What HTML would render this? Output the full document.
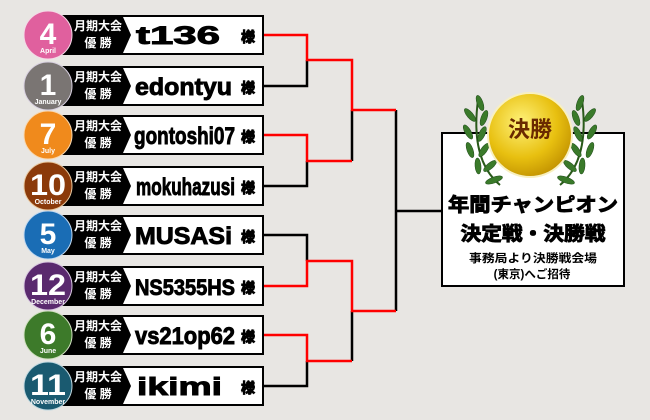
<!DOCTYPE html>
<html><head><meta charset="utf-8"><style>
html,body{margin:0;padding:0;background:#e8e6e3;}
svg{display:block;}
text{font-family:"Liberation Sans","Noto Sans CJK JP",sans-serif;font-weight:bold;}
.n{stroke:#000;stroke-width:0.9;}
</style></head><body>
<svg width="650" height="420" viewBox="0 0 650 420" xmlns="http://www.w3.org/2000/svg">
<rect width="650" height="420" fill="#e8e6e3"/>
<g stroke-width="2.5" fill="none">
<g stroke="#000">
<path d="M264 86H307V60"/>
<path d="M264 186H307V161"/>
<path d="M352 110V161"/>
<path d="M264 235H307V261"/>
<path d="M352 311V361"/>
<path d="M264 386H307V361"/>
<path d="M396 110V311"/>
<path d="M396 211H442"/>
</g>
<g stroke="#f00">
<path d="M264 35H307V60H352V110H396"/>
<path d="M264 135H307V161H352"/>
<path d="M264 286H307V261H352V311H396"/>
<path d="M264 335H307V361H352"/>
</g>
</g>

<g transform="translate(0,35)">
<rect x="60" y="-20" width="204" height="40" fill="#000"/>
<polygon points="123,-18 262,-18 262,18 123,18 131,0" fill="#fff"/>
<text x="98" y="-5" font-size="12" fill="#fff" text-anchor="middle">月期大会</text>
<text x="98" y="12" font-size="12" fill="#fff" text-anchor="middle">優 勝</text>
<circle cx="48" cy="0" r="24" fill="#e0609e" stroke="#f4d8e6" stroke-width="1"/>
<text x="48" y="9" font-size="30" fill="#fff" text-anchor="middle">4</text>
<text x="48" y="18" font-size="7" fill="#fff" text-anchor="middle">April</text>
<text class="n" x="136" y="9" font-size="25" textLength="84" lengthAdjust="spacingAndGlyphs" fill="#000">t136</text>
<text class="n" x="241" y="7" font-size="14" fill="#000">様</text>
</g>
<g transform="translate(0,86)">
<rect x="60" y="-20" width="204" height="40" fill="#000"/>
<polygon points="123,-18 262,-18 262,18 123,18 131,0" fill="#fff"/>
<text x="98" y="-5" font-size="12" fill="#fff" text-anchor="middle">月期大会</text>
<text x="98" y="12" font-size="12" fill="#fff" text-anchor="middle">優 勝</text>
<circle cx="48" cy="0" r="24" fill="#7a7573" stroke="#d8d0e0" stroke-width="1"/>
<text x="48" y="9" font-size="30" fill="#fff" text-anchor="middle">1</text>
<text x="48" y="18" font-size="7" fill="#fff" text-anchor="middle">January</text>
<text class="n" x="135" y="9" font-size="24" textLength="97" lengthAdjust="spacingAndGlyphs" fill="#000">edontyu</text>
<text class="n" x="241" y="7" font-size="14" fill="#000">様</text>
</g>
<g transform="translate(0,135)">
<rect x="60" y="-20" width="204" height="40" fill="#000"/>
<polygon points="123,-18 262,-18 262,18 123,18 131,0" fill="#fff"/>
<text x="98" y="-5" font-size="12" fill="#fff" text-anchor="middle">月期大会</text>
<text x="98" y="12" font-size="12" fill="#fff" text-anchor="middle">優 勝</text>
<circle cx="48" cy="0" r="24" fill="#f08a1c" stroke="#f8d8b0" stroke-width="1"/>
<text x="48" y="9" font-size="30" fill="#fff" text-anchor="middle">7</text>
<text x="48" y="18" font-size="7" fill="#fff" text-anchor="middle">July</text>
<text class="n" x="134" y="9" font-size="24" textLength="101" lengthAdjust="spacingAndGlyphs" fill="#000">gontoshi07</text>
<text class="n" x="241" y="7" font-size="14" fill="#000">様</text>
</g>
<g transform="translate(0,186)">
<rect x="60" y="-20" width="204" height="40" fill="#000"/>
<polygon points="123,-18 262,-18 262,18 123,18 131,0" fill="#fff"/>
<text x="98" y="-5" font-size="12" fill="#fff" text-anchor="middle">月期大会</text>
<text x="98" y="12" font-size="12" fill="#fff" text-anchor="middle">優 勝</text>
<circle cx="48" cy="0" r="24" fill="#8b3a0a" stroke="#e8c8a0" stroke-width="1"/>
<text x="48" y="9" font-size="30" fill="#fff" text-anchor="middle" textLength="36" lengthAdjust="spacingAndGlyphs">10</text>
<text x="48" y="18" font-size="7" fill="#fff" text-anchor="middle">October</text>
<text class="n" x="136" y="9" font-size="24" textLength="99" lengthAdjust="spacingAndGlyphs" fill="#000">mokuhazusi</text>
<text class="n" x="241" y="7" font-size="14" fill="#000">様</text>
</g>
<g transform="translate(0,235)">
<rect x="60" y="-20" width="204" height="40" fill="#000"/>
<polygon points="123,-18 262,-18 262,18 123,18 131,0" fill="#fff"/>
<text x="98" y="-5" font-size="12" fill="#fff" text-anchor="middle">月期大会</text>
<text x="98" y="12" font-size="12" fill="#fff" text-anchor="middle">優 勝</text>
<circle cx="48" cy="0" r="24" fill="#1a6db5" stroke="#c0d8f0" stroke-width="1"/>
<text x="48" y="9" font-size="30" fill="#fff" text-anchor="middle">5</text>
<text x="48" y="18" font-size="7" fill="#fff" text-anchor="middle">May</text>
<text class="n" x="135" y="9" font-size="24" textLength="97" lengthAdjust="spacingAndGlyphs" fill="#000">MUSASi</text>
<text class="n" x="241" y="7" font-size="14" fill="#000">様</text>
</g>
<g transform="translate(0,286)">
<rect x="60" y="-20" width="204" height="40" fill="#000"/>
<polygon points="123,-18 262,-18 262,18 123,18 131,0" fill="#fff"/>
<text x="98" y="-5" font-size="12" fill="#fff" text-anchor="middle">月期大会</text>
<text x="98" y="12" font-size="12" fill="#fff" text-anchor="middle">優 勝</text>
<circle cx="48" cy="0" r="24" fill="#5a2a6e" stroke="#d8c8e0" stroke-width="1"/>
<text x="48" y="9" font-size="30" fill="#fff" text-anchor="middle" textLength="36" lengthAdjust="spacingAndGlyphs">12</text>
<text x="48" y="18" font-size="7" fill="#fff" text-anchor="middle">December</text>
<text class="n" x="135" y="9" font-size="22" textLength="100" lengthAdjust="spacingAndGlyphs" fill="#000">NS5355HS</text>
<text class="n" x="241" y="7" font-size="14" fill="#000">様</text>
</g>
<g transform="translate(0,335)">
<rect x="60" y="-20" width="204" height="40" fill="#000"/>
<polygon points="123,-18 262,-18 262,18 123,18 131,0" fill="#fff"/>
<text x="98" y="-5" font-size="12" fill="#fff" text-anchor="middle">月期大会</text>
<text x="98" y="12" font-size="12" fill="#fff" text-anchor="middle">優 勝</text>
<circle cx="48" cy="0" r="24" fill="#3d7a2a" stroke="#d0e0c0" stroke-width="1"/>
<text x="48" y="9" font-size="30" fill="#fff" text-anchor="middle">6</text>
<text x="48" y="18" font-size="7" fill="#fff" text-anchor="middle">June</text>
<text class="n" x="135" y="9" font-size="24" textLength="100" lengthAdjust="spacingAndGlyphs" fill="#000">vs21op62</text>
<text class="n" x="241" y="7" font-size="14" fill="#000">様</text>
</g>
<g transform="translate(0,386)">
<rect x="60" y="-20" width="204" height="40" fill="#000"/>
<polygon points="123,-18 262,-18 262,18 123,18 131,0" fill="#fff"/>
<text x="98" y="-5" font-size="12" fill="#fff" text-anchor="middle">月期大会</text>
<text x="98" y="12" font-size="12" fill="#fff" text-anchor="middle">優 勝</text>
<circle cx="48" cy="0" r="24" fill="#1a5a70" stroke="#c0d8e0" stroke-width="1"/>
<text x="48" y="9" font-size="30" fill="#fff" text-anchor="middle" textLength="36" lengthAdjust="spacingAndGlyphs">11</text>
<text x="48" y="18" font-size="7" fill="#fff" text-anchor="middle">November</text>
<text class="n" x="137" y="9" font-size="25" textLength="85" lengthAdjust="spacingAndGlyphs" fill="#000">ikimi</text>
<text class="n" x="241" y="7" font-size="14" fill="#000">様</text>
</g>

<rect x="442" y="133" width="182" height="153" fill="#fff" stroke="#000" stroke-width="2"/>
<g fill="#3a7a2a" stroke="#1e4a18" stroke-width="0.5">
<path d="M500 185 Q470 160 478 100" fill="none" stroke="#2a5a1a" stroke-width="2"/>
<path d="M560 185 Q590 160 582 100" fill="none" stroke="#2a5a1a" stroke-width="2"/>
<ellipse cx="480" cy="103" rx="3" ry="8" transform="rotate(-20 480 103)"/>
<ellipse cx="470" cy="115" rx="3" ry="8" transform="rotate(-40 470 115)"/>
<ellipse cx="484" cy="118" rx="3" ry="8" transform="rotate(20 484 118)"/>
<ellipse cx="468" cy="132" rx="3" ry="8" transform="rotate(-30 468 132)"/>
<ellipse cx="482" cy="134" rx="3" ry="8" transform="rotate(25 482 134)"/>
<ellipse cx="470" cy="150" rx="3" ry="8" transform="rotate(-20 470 150)"/>
<ellipse cx="484" cy="150" rx="3" ry="8" transform="rotate(35 484 150)"/>
<ellipse cx="478" cy="166" rx="3" ry="8" transform="rotate(-5 478 166)"/>
<ellipse cx="490" cy="166" rx="3" ry="8" transform="rotate(50 490 166)"/>
<ellipse cx="494" cy="180" rx="3" ry="9" transform="rotate(70 494 180)"/>
<ellipse cx="580" cy="103" rx="3" ry="8" transform="rotate(20 580 103)"/>
<ellipse cx="590" cy="115" rx="3" ry="8" transform="rotate(40 590 115)"/>
<ellipse cx="576" cy="118" rx="3" ry="8" transform="rotate(-20 576 118)"/>
<ellipse cx="592" cy="132" rx="3" ry="8" transform="rotate(30 592 132)"/>
<ellipse cx="578" cy="134" rx="3" ry="8" transform="rotate(-25 578 134)"/>
<ellipse cx="590" cy="150" rx="3" ry="8" transform="rotate(20 590 150)"/>
<ellipse cx="576" cy="150" rx="3" ry="8" transform="rotate(-35 576 150)"/>
<ellipse cx="582" cy="166" rx="3" ry="8" transform="rotate(5 582 166)"/>
<ellipse cx="570" cy="166" rx="3" ry="8" transform="rotate(-50 570 166)"/>
<ellipse cx="566" cy="180" rx="3" ry="9" transform="rotate(-70 566 180)"/>
</g>
<defs><radialGradient id="g" cx="0.4" cy="0.35" r="0.7"><stop offset="0" stop-color="#fff27a"/><stop offset="0.6" stop-color="#e8c010"/><stop offset="1" stop-color="#c09000"/></radialGradient></defs>
<circle cx="530" cy="135" r="42" fill="url(#g)" stroke="#f8f0c0" stroke-width="2"/>
<text x="530" y="137" font-size="22" fill="#6a2a00" text-anchor="middle">決勝</text>
<text class="n" x="533" y="211" font-size="19" fill="#000" text-anchor="middle" textLength="170" lengthAdjust="spacingAndGlyphs">年間チャンピオン</text>
<text class="n" x="533" y="240" font-size="19" fill="#000" text-anchor="middle" textLength="145" lengthAdjust="spacingAndGlyphs">決定戦・決勝戦</text>
<text x="533" y="262" font-size="11.5" fill="#000" text-anchor="middle" textLength="128" lengthAdjust="spacingAndGlyphs">事務局より決勝戦会場</text>
<text x="532" y="278" font-size="11.5" fill="#000" text-anchor="middle">(東京)へご招待</text>
</svg>
</body></html>
